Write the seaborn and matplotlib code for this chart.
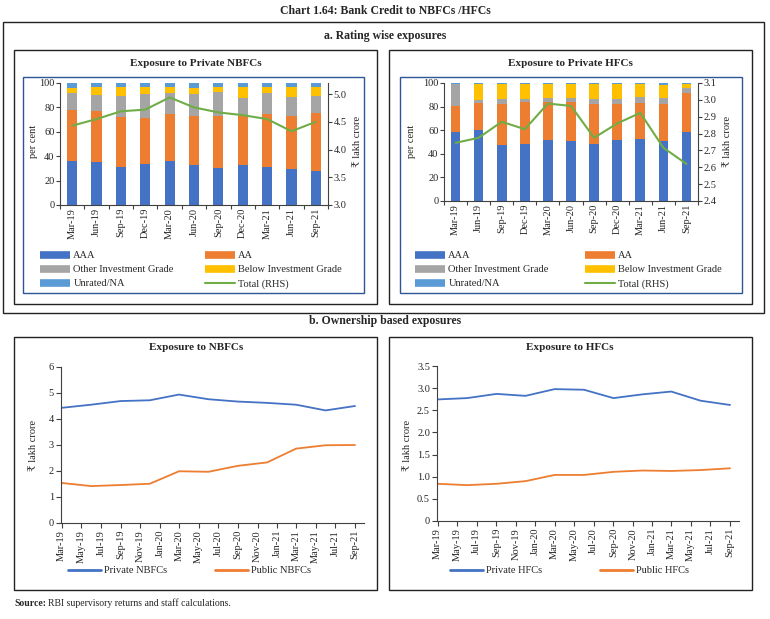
import numpy as np
import pandas as pd
import matplotlib
matplotlib.use("Agg")
import matplotlib.pyplot as plt
import seaborn as sns
from matplotlib.lines import Line2D
from matplotlib.patches import Rectangle
from matplotlib.ticker import FormatStrFormatter

# ---------------- data ----------------
periods = ['Mar-19', 'Jun-19', 'Sep-19', 'Dec-19', 'Mar-20', 'Jun-20',
           'Sep-20', 'Dec-20', 'Mar-21', 'Jun-21', 'Sep-21']
bottom_ticks = ['Mar-19', 'May-19', 'Jul-19', 'Sep-19', 'Nov-19', 'Jan-20',
                'Mar-20', 'May-20', 'Jul-20', 'Sep-20', 'Nov-20', 'Jan-21',
                'Mar-21', 'May-21', 'Jul-21', 'Sep-21']
layer_names = ['AAA', 'AA', 'Other Investment Grade', 'Below Investment Grade', 'Unrated/NA']

# Private NBFCs rating shares (per cent)
nbfc_aaa = [35.8, 35.0, 30.9, 33.9, 35.8, 33.0, 30.0, 33.0, 30.9, 29.8, 28.1]
nbfc_aa = [42.0, 42.0, 41.0, 37.5, 38.5, 40.0, 43.0, 40.0, 44.0, 43.2, 47.3]
nbfc_other = [13.8, 13.3, 17.8, 19.4, 17.6, 18.1, 19.4, 14.8, 17.0, 15.4, 13.8]
nbfc_below = [4.1, 6.2, 6.8, 5.7, 4.6, 4.9, 4.1, 9.2, 5.1, 8.1, 7.8]
nbfc_unrated = [4.3, 3.5, 3.5, 3.5, 3.5, 4.0, 3.5, 3.0, 3.0, 3.5, 3.0]
nbfc_total = [4.43, 4.55, 4.69, 4.72, 4.94, 4.76, 4.67, 4.62, 4.55, 4.33, 4.50]

# Private HFCs rating shares (per cent)
hfc_aaa = [58.2, 60.3, 47.5, 48.3, 51.8, 50.6, 48.3, 51.7, 52.8, 51.1, 58.1]
hfc_aa = [22.0, 22.7, 35.1, 35.7, 32.2, 33.4, 33.9, 30.8, 30.1, 31.4, 33.4]
hfc_other = [19.1, 3.0, 3.9, 2.5, 3.6, 3.6, 4.3, 4.3, 5.1, 4.8, 4.2]
hfc_below = [0.0, 13.5, 13.0, 13.0, 11.9, 11.9, 13.0, 12.7, 11.5, 11.0, 3.8]
hfc_unrated = [0.7, 0.5, 0.5, 0.5, 0.5, 0.5, 0.5, 0.5, 0.5, 1.7, 0.5]
hfc_total = [2.745, 2.775, 2.87, 2.826, 2.978, 2.964, 2.775, 2.86, 2.923, 2.716, 2.62]

# Ownership based exposures (lakh crore)
private_nbfc = [4.43, 4.55, 4.69, 4.72, 4.94, 4.76, 4.67, 4.62, 4.55, 4.33, 4.50]
public_nbfc = [1.54, 1.42, 1.46, 1.51, 1.99, 1.97, 2.20, 2.33, 2.86, 2.99, 3.00]
private_hfc = [2.745, 2.775, 2.87, 2.826, 2.978, 2.964, 2.775, 2.86, 2.923, 2.716, 2.62]
public_hfc = [0.84, 0.81, 0.84, 0.90, 1.04, 1.04, 1.11, 1.14, 1.13, 1.15, 1.19]

# ---------------- style ----------------
C_AAA, C_AA, C_OTH, C_BEL, C_UNR = '#4472C4', '#ED7D31', '#A5A5A5', '#FFC000', '#5B9BD5'
C_TOT = '#70AD47'
C_BLUE, C_ORANGE = '#4472C4', '#ED7D31'
AX_COL = '#404040'
FRAME_BLUE = '#2F5597'

sns.set_theme(style='white')
plt.rcParams['font.family'] = ['Liberation Serif', 'DejaVu Serif']
plt.rcParams['axes.edgecolor'] = AX_COL
plt.rcParams['axes.linewidth'] = 0.8

W, H = 770, 619
fig = plt.figure(figsize=(W / 100, H / 100), dpi=100)
fig.patch.set_facecolor('white')


def rect(x0, y0, x1, y1):
    return [x0 / W, 1 - y1 / H, (x1 - x0) / W, (y1 - y0) / H]


def box(x0, y0, x1, y1, color='#222222', lw=1.0):
    fig.add_artist(Rectangle((x0 / W, 1 - y1 / H), (x1 - x0) / W, (y1 - y0) / H,
                             transform=fig.transFigure, fill=False,
                             edgecolor=color, linewidth=lw))


def ftext(x, y, s, **kw):
    fig.text(x / W, 1 - y / H, s, **kw)


FS = 7.5

# frames
box(3, 22, 764, 313)
box(14, 50, 377, 304)
box(389, 50, 752, 304)
box(23, 77, 364, 293, color=FRAME_BLUE, lw=1.0)
box(400, 77, 742, 293, color=FRAME_BLUE, lw=1.0)
box(14, 337, 377, 590)
box(389, 337, 752, 590)

# titles
ftext(385, 11, 'Chart 1.64: Bank Credit to NBFCs /HFCs', ha='center', va='center',
      fontsize=8.5, fontweight='bold')
ftext(385, 36, 'a. Rating wise exposures', ha='center', va='center', fontsize=8.5, fontweight='bold')
ftext(196, 63, 'Exposure to Private NBFCs', ha='center', va='center', fontsize=8, fontweight='bold')
ftext(570, 63, 'Exposure to Private HFCs', ha='center', va='center', fontsize=8, fontweight='bold')
ftext(385, 321, 'b. Ownership based exposures', ha='center', va='center', fontsize=8.5, fontweight='bold')
ftext(196, 348, 'Exposure to NBFCs', ha='center', va='center', fontsize=8, fontweight='bold')
ftext(570, 348, 'Exposure to HFCs', ha='center', va='center', fontsize=8, fontweight='bold')
ftext(14, 603, 'Source:', ha='left', va='center', fontsize=7, fontweight='bold')
ftext(48, 603, 'RBI supervisory returns and staff calculations.', ha='left', va='center', fontsize=7)


def stacked_chart(pos, layers, total, ylim2, yticks2):
    ax = fig.add_axes(rect(*pos))
    colors = [C_AAA, C_AA, C_OTH, C_BEL, C_UNR]
    cum = np.cumsum(np.array(layers, dtype=float), axis=0)
    for i in reversed(range(len(layers))):
        sns.barplot(x=periods, y=cum[i], color=colors[i], width=0.42, saturation=1,
                    linewidth=0, ax=ax, order=periods)
    ax.set_xlim(-0.5, len(periods) - 0.5)
    ax.set_ylim(0, 100)
    ax.set_yticks(np.arange(0, 101, 20))
    ax.set_xticks(np.arange(len(periods)))
    ax.set_xticklabels(periods, rotation=90)
    ax.set_xticks(np.arange(len(periods) + 1) - 0.5, minor=True)
    ax.tick_params(axis='x', which='major', length=0, labelsize=FS, pad=2)
    ax.tick_params(axis='x', which='minor', length=3, width=0.8, color=AX_COL, direction='out', bottom=True)
    ax.tick_params(axis='y', length=3, width=0.8, color=AX_COL, direction='out', labelsize=FS, pad=1, left=True)
    ax.set_xlabel('')
    ax.set_ylabel('')
    ax.spines['top'].set_visible(False)
    ax.spines['right'].set_visible(False)
    ax2 = ax.twinx()
    sns.lineplot(x=np.arange(len(periods)), y=total, color=C_TOT, linewidth=1.5, ax=ax2)
    ax2.set_xlim(-0.5, len(periods) - 0.5)
    ax2.set_ylim(*ylim2)
    ax2.set_yticks(yticks2)
    ax2.yaxis.set_major_formatter(FormatStrFormatter('%.1f'))
    ax2.tick_params(axis='y', length=3, width=0.8, color=AX_COL, direction='out', labelsize=FS, pad=1, right=True)
    ax2.set_ylabel('')
    for s in ['top', 'left', 'bottom']:
        ax2.spines[s].set_visible(False)
    ax2.spines['right'].set_visible(True)
    return ax, ax2


stacked_chart((60, 83, 328, 205),
              [nbfc_aaa, nbfc_aa, nbfc_other, nbfc_below, nbfc_unrated],
              nbfc_total, (3.0, 5.2), np.arange(3.0, 5.01, 0.5))
stacked_chart((444, 83, 698, 201),
              [hfc_aaa, hfc_aa, hfc_other, hfc_below, hfc_unrated],
              hfc_total, (2.4, 3.1), np.arange(2.4, 3.101, 0.1))

ftext(34, 141, 'per cent', rotation=90, ha='center', va='center', fontsize=FS)
ftext(357, 141, '₹ lakh crore', rotation=90, ha='center', va='center', fontsize=FS)
ftext(412, 141, 'per cent', rotation=90, ha='center', va='center', fontsize=FS)
ftext(728, 141, '₹ lakh crore', rotation=90, ha='center', va='center', fontsize=FS)


def add_legend(handles, labels, x, y, hl):
    leg = fig.legend(handles, labels, loc='upper left', bbox_to_anchor=(x / W, 1 - y / H),
                     frameon=False, fontsize=FS, handlelength=hl, handletextpad=0.3,
                     labelspacing=0.45, borderpad=0, borderaxespad=0)
    return leg


def patch_handle(c):
    return Line2D([], [], color=c, linewidth=5.5, solid_capstyle='butt')


for x1, x2 in [(40, 205), (415, 585)]:
    add_legend([patch_handle(C_AAA), patch_handle(C_OTH), patch_handle(C_UNR)],
               [layer_names[0], layer_names[2], layer_names[4]], x1, 251, 2.9)
    add_legend([patch_handle(C_AA), patch_handle(C_BEL),
                Line2D([], [], color=C_TOT, linewidth=1.5)],
               [layer_names[1], layer_names[3], 'Total (RHS)'], x2, 251, 2.9)

# ---------------- ownership line charts ----------------
dates = pd.to_datetime(periods, format='%b-%y')
tick_dates = pd.to_datetime(bottom_ticks, format='%b-%y')


def line_chart(pos, priv, pub, ylim, yticks, ylabels, labels, leg_x):
    ax = fig.add_axes(rect(*pos))
    sns.lineplot(x=dates, y=priv, color=C_BLUE, linewidth=1.3, ax=ax)
    sns.lineplot(x=dates, y=pub, color=C_ORANGE, linewidth=1.3, ax=ax)
    ax.set_xlim(dates[0] - pd.Timedelta(days=2), dates[-1] + pd.Timedelta(days=28))
    ax.set_ylim(*ylim)
    ax.set_yticks(yticks)
    ax.set_yticklabels(ylabels)
    ax.set_xticks(tick_dates)
    ax.set_xticklabels(bottom_ticks, rotation=90)
    ax.tick_params(axis='both', length=3.5, width=0.8, color=AX_COL, direction='out',
                   labelsize=FS, pad=1.5, left=True, bottom=True)
    ax.set_xlabel('')
    ax.set_ylabel('')
    ax.spines['top'].set_visible(False)
    ax.spines['right'].set_visible(False)
    add_legend([Line2D([], [], color=C_BLUE, linewidth=2)], [labels[0]], leg_x[0], 566, 3.2)
    add_legend([Line2D([], [], color=C_ORANGE, linewidth=2)], [labels[1]], leg_x[1], 566, 3.2)
    return ax


line_chart((61, 367, 364, 523), private_nbfc, public_nbfc, (0, 6), np.arange(0, 7, 1),
           [str(v) for v in range(7)], ['Private NBFCs', 'Public NBFCs'], (68, 215))
line_chart((437, 366, 739, 521), private_hfc, public_hfc, (0, 3.5), np.arange(0, 3.51, 0.5),
           ['0'] + ['%.1f' % v for v in np.arange(0.5, 3.51, 0.5)],
           ['Private HFCs', 'Public HFCs'], (450, 600))

ftext(33, 445, '₹ lakh crore', rotation=90, ha='center', va='center', fontsize=FS)
ftext(408, 445, '₹ lakh crore', rotation=90, ha='center', va='center', fontsize=FS)

fig.savefig('out.png', dpi=100, facecolor='white')
